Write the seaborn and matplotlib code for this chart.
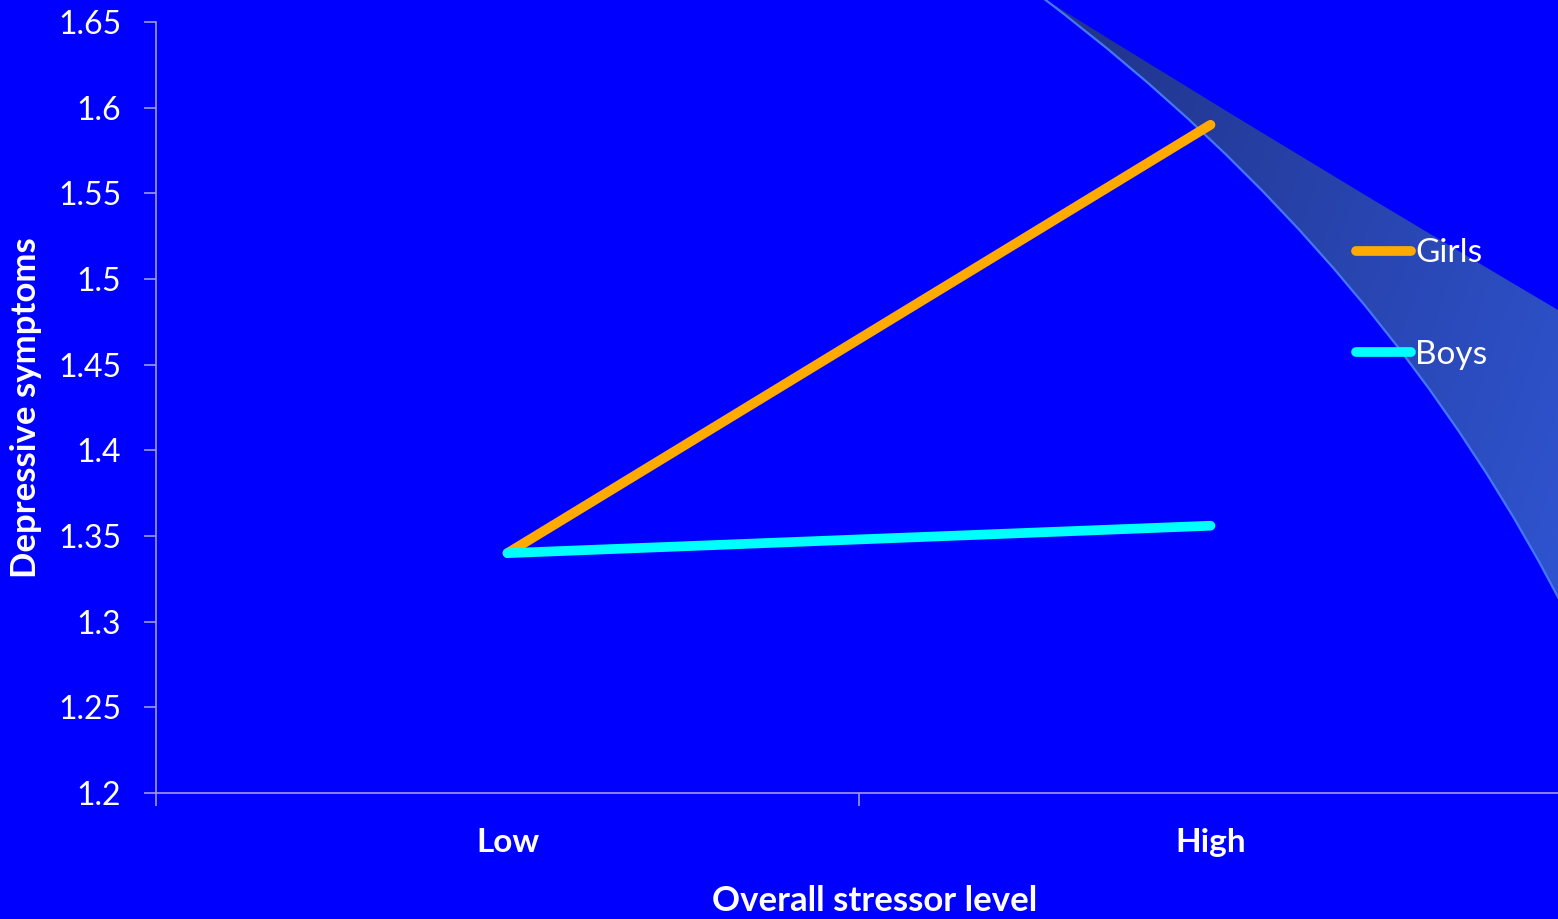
import numpy as np
import pandas as pd
import matplotlib
matplotlib.use("Agg")
import matplotlib.pyplot as plt
from matplotlib.path import Path
from matplotlib.patches import PathPatch
import seaborn as sns

# Estimated marginal means of depressive symptoms by stressor level
stress_levels = ["Low", "High"]
girls = [1.340, 1.590]
boys = [1.340, 1.356]
groups = ["Girls", "Boys"]
y_ticks = [1.2, 1.25, 1.3, 1.35, 1.4, 1.45, 1.5, 1.55, 1.6, 1.65]
y_tick_labels = ["1.2", "1.25", "1.3", "1.35", "1.4", "1.45", "1.5", "1.55", "1.6", "1.65"]

df = pd.DataFrame({
    "stress": stress_levels * 2,
    "group": [groups[0]] * 2 + [groups[1]] * 2,
    "value": girls + boys,
})

BG = "#0000FF"
AXIS = "#9C9CE0"
palette = {"Girls": "#FFAA00", "Boys": "#00FFFF"}

sns.set_theme(style="white")
plt.rcParams["font.family"] = ["Lato", "DejaVu Sans"]

W, H = 1558, 919
fig = plt.figure(figsize=(W / 100, H / 100), dpi=100, facecolor=BG)

# Decorative swoosh in pixel space behind the plot
bg = fig.add_axes([0, 0, 1, 1], zorder=0)
bg.set_xlim(0, W)
bg.set_ylim(H, 0)
bg.axis("off")
bg.set_facecolor(BG)

start = (1043, -2)
upper_ctrl, upper_end = (1300, 158), (1575, 320)
lower_ctrl, lower_end = (1391, 261), (1575, 630)
verts = [start, upper_ctrl, upper_end, lower_end, lower_ctrl, start, start]
codes = [Path.MOVETO, Path.CURVE3, Path.CURVE3, Path.LINETO,
         Path.CURVE3, Path.CURVE3, Path.CLOSEPOLY]
swoosh = PathPatch(Path(verts, codes), facecolor="none", edgecolor="none")
bg.add_patch(swoosh)

gx = np.linspace(0, 1, 256)
gy = np.linspace(0, 1, 256)
GX, GY = np.meshgrid(gx, gy)
t = np.clip(0.7 * GX + 0.3 * GY, 0, 1)
c0 = np.array([32, 50, 135]) / 255
c1 = np.array([48, 86, 212]) / 255
img = c0[None, None, :] * (1 - t[..., None]) + c1[None, None, :] * t[..., None]
im = bg.imshow(img, extent=(1040, 1580, 650, -5), aspect="auto", zorder=1)
im.set_clip_path(swoosh)

edge_path = Path([start, lower_ctrl, lower_end], [Path.MOVETO, Path.CURVE3, Path.CURVE3])
bg.add_patch(PathPatch(edge_path, facecolor="none", edgecolor="#4476FF", lw=1.6, zorder=2))

# Main chart
left, right, top, bottom = 156, 1562, 22, 793
ax = fig.add_axes([left / W, (H - bottom) / H, (right - left) / W, (bottom - top) / H], zorder=1)
ax.set_facecolor("none")

sns.lineplot(data=df, x="stress", y="value", hue="group", hue_order=groups,
             palette=palette, linewidth=7, ax=ax, legend=True)
for line in ax.get_lines():
    line.set_solid_capstyle("round")

ax.set_xlim(-0.5, 1.5)
ax.set_ylim(1.2, 1.65)
ax.set_yticks(y_ticks)
ax.set_yticklabels(y_tick_labels)
ax.set_xticks([0, 1])
ax.set_xticklabels(stress_levels, fontweight="bold")
ax.set_xticks([-0.5, 0.5, 1.5], minor=True)

for s in ["top", "right"]:
    ax.spines[s].set_visible(False)
for s in ["left", "bottom"]:
    ax.spines[s].set_color(AXIS)
    ax.spines[s].set_linewidth(1.2)

ax.tick_params(axis="y", which="major", left=True, length=9, width=1.2, color=AXIS,
               labelcolor="white", labelsize=23, pad=16)
ax.tick_params(axis="x", which="major", bottom=False, length=0,
               labelcolor="white", labelsize=24, pad=25)
ax.tick_params(axis="x", which="minor", bottom=True, length=9, width=1.2, color=AXIS)

ax.set_xlabel("Overall stressor level", color="white", fontsize=25, fontweight="bold")
ax.set_ylabel("Depressive symptoms", color="white", fontsize=25, fontweight="bold")
ax.xaxis.set_label_coords(0.511, -0.119)
ax.yaxis.set_label_coords(-0.081, 0.5)

leg = ax.legend(loc="center left", bbox_to_anchor=(1356 / W, (H - 304) / H),
                bbox_transform=fig.transFigure, frameon=False, fontsize=24,
                handlelength=1.65, handletextpad=0.12, labelspacing=2.14,
                borderpad=0, borderaxespad=0)
for h in leg.legend_handles:
    h.set_linewidth(7)
    h.set_solid_capstyle("round")
for txt in leg.get_texts():
    txt.set_color("white")

fig.savefig("out.png", dpi=100, facecolor=BG)
